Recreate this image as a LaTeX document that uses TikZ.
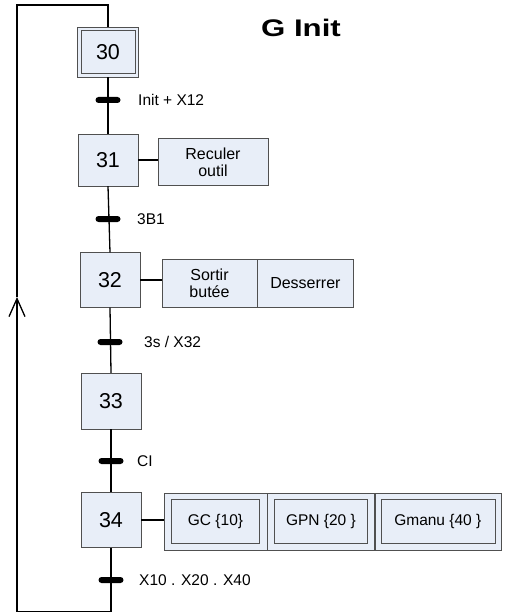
\documentclass[tikz,border=0pt]{standalone}
\usepackage{fontspec}
\setmainfont{Liberation Sans}
\usetikzlibrary{arrows.meta,positioning,calc}
\definecolor{stepfill}{RGB}{232,238,248}
\definecolor{stepline}{RGB}{80,80,80}

\begin{document}
\begin{tikzpicture}[x=1pt,y=-1pt,
  stepbox/.style={draw=stepline,fill=stepfill,minimum width=60pt,minimum height=54pt,inner sep=0pt,font=\fontsize{21.5}{23}\selectfont},
  actbox/.style={draw=stepline,fill=stepfill,minimum height=48pt,inner sep=0pt,align=center,font=\fontsize{16}{17}\selectfont},
  macrobox/.style={draw=stepline,fill=stepfill,minimum height=44pt,inner sep=0pt,font=\fontsize{15.5}{16}\selectfont},
  trans/.style={fill=black,minimum width=25pt,minimum height=6pt,inner sep=0pt,rounded corners=3pt},
  lbl/.style={anchor=west,inner sep=0pt,font=\fontsize{15.5}{16}\selectfont},
  link/.style={line width=1.3pt}]
\useasboundingbox (0,0) rectangle (509,612);
% title
\node[font=\fontsize{24}{26}\selectfont\bfseries] (title) at (301,28) {\scalebox{1.3}[1]{G Init}};
% initial step
\node[stepbox,minimum width=61pt,minimum height=50pt] (s30o) at (108,52) {};
\node[stepbox,minimum width=54pt,minimum height=43pt] (s30) at (108,52) {30};
% steps
\node[stepbox,minimum height=52pt] (s31) at (108,160) {31};
\node[stepbox,minimum height=55pt] (s32) at (110,280) {32};
\node[stepbox,minimum height=56pt] (s33) at (111,401) {33};
\node[stepbox,minimum height=55pt] (s34) at (111,520) {34};
% actions
\node[actbox,minimum width=110pt,minimum height=47pt] (a31) at (213,162) {Reculer\\outil};
\node[actbox,minimum width=95pt] (a32a) at (209.5,283) {Sortir\\butée};
\node[actbox,minimum width=96pt,right=0pt of a32a] (a32b) {Desserrer};
\node[actbox,minimum width=103pt,minimum height=57pt] (m1) at (215.5,521.5) {};
\node[actbox,minimum width=107pt,minimum height=57pt,right=0pt of m1] (m2) {};
\node[actbox,minimum width=126pt,minimum height=57pt,right=0pt of m2] (m3) {};
\node[macrobox,minimum width=88pt] (gc) at (m1) {GC \{10\}};
\node[macrobox,minimum width=93pt] (gpn) at (m2) {GPN \{20 \}};
\node[macrobox,minimum width=114pt] (gman) at (m3) {Gmanu \{40 \}};
% links
\draw[link] (s30o.south) -- (s31.north);
\draw[link] (s31.south) -- (s32.north);
\draw[link] (s32.south) -- (s33.north);
\draw[link] (s33.south) -- (s34.north);
\draw[link] (s31.east) -- (a31.west |- s31.east);
\draw[link] (s32.east) -- (a32a.west |- s32.east);
\draw[link] (s34.east) -- (m1.west |- s34.east);
% transitions
\node[trans] (t1) at (108,100) {};
\node[trans] (t2) at (108,219) {};
\node[trans] (t3) at (110,342) {};
\node[trans] (t4) at (111,461) {};
\node[trans] (t5) at (111,580) {};
\node[lbl] (c1) at (138,100) {Init + X12};
\node[lbl] (c2) at (137,219) {3B1};
\node[lbl] (c3) at (144,342) {3s / X32};
\node[lbl] (c4) at (137,461) {CI};
\node[lbl] (c5) at (139,580) {X10 . X20 . X40};
% loop back
\coordinate (lb) at (111,611.5);
\coordinate (lbl) at (17,611.5);
\coordinate (la) at (17,297);
\coordinate (ltl) at (17,5);
\coordinate (lt) at (108,5);
\draw[link] (s34.south) -- (lb) -- (lbl);
\draw[link,-{Straight Barb[length=18pt,width=16pt]}] (lbl) -- (la);
\draw[link] (la) -- (ltl) -- (lt) -- (s30o.north);
\end{tikzpicture}
\end{document}
